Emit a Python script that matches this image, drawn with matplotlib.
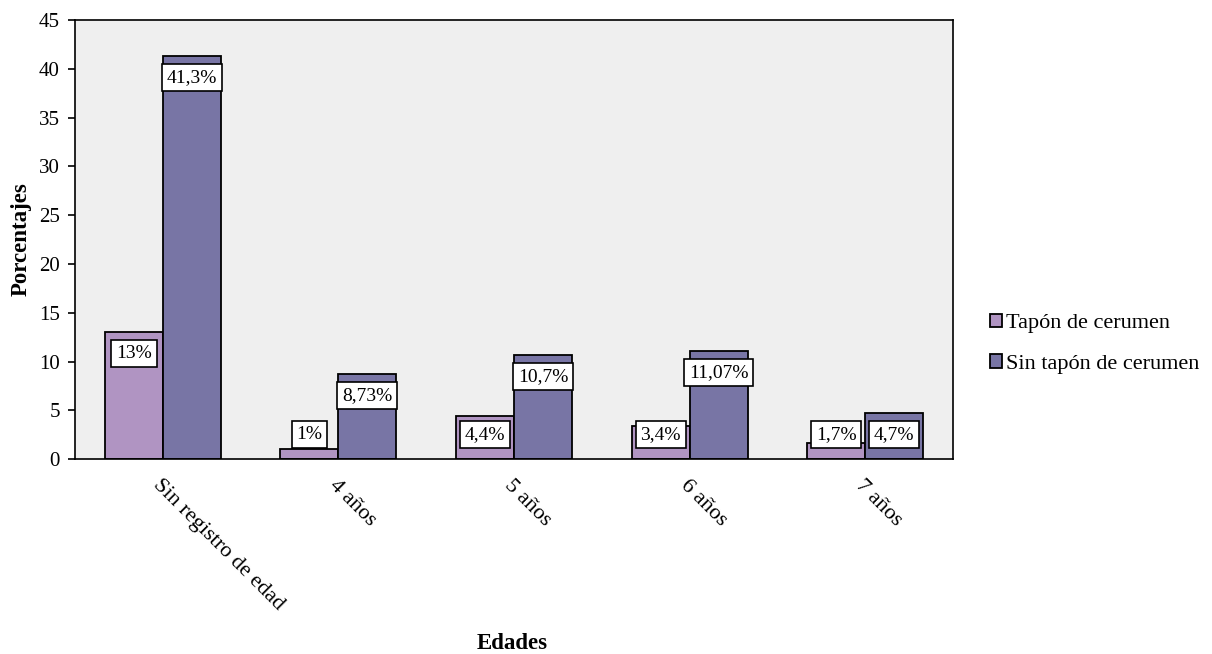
import matplotlib
matplotlib.use("Agg")
import matplotlib.pyplot as plt
import numpy as np

categories = ["Sin registro de edad", "4 años", "5 años", "6 años", "7 años"]
tapon = [13, 1, 4.4, 3.4, 1.7]
sin_tapon = [41.3, 8.73, 10.7, 11.07, 4.7]
tapon_labels = ["13%", "1%", "4,4%", "3,4%", "1,7%"]
sin_tapon_labels = ["41,3%", "8,73%", "10,7%", "11,07%", "4,7%"]
series_names = ["Tapón de cerumen", "Sin tapón de cerumen"]

plt.rcParams["font.family"] = ["Liberation Serif", "DejaVu Serif"]

fig = plt.figure(figsize=(12.12, 6.54), dpi=100)
ax = fig.add_axes([0.0619, 0.298, 0.7244, 0.6714])
ax.set_facecolor("#EFEFEF")

x = np.arange(len(categories))
w = 0.33
c_light = "#B094C2"
c_dark = "#7875A5"
ax.bar(x - w / 2, tapon, w, color=c_light, edgecolor="black", linewidth=1.3,
       label=series_names[0], zorder=2)
ax.bar(x + w / 2, sin_tapon, w, color=c_dark, edgecolor="black", linewidth=1.3,
       label=series_names[1], zorder=2)

def put_labels(xs, vals, texts):
    for xi, v, t in zip(xs, vals, texts):
        yc = max(v - 2.2, 2.5)
        ax.text(xi, yc, t, ha="center", va="center", fontsize=14, zorder=3,
                bbox=dict(boxstyle="square,pad=0.25", facecolor="white",
                          edgecolor="black", linewidth=1.2))

put_labels(x - w / 2, tapon, tapon_labels)
put_labels(x + w / 2, sin_tapon, sin_tapon_labels)

ax.set_xlim(-0.5, len(categories) - 0.5)
ax.set_ylim(0, 45)
ax.set_yticks(np.arange(0, 46, 5))
ax.tick_params(axis="y", direction="out", length=5, width=1.2, labelsize=15, pad=6)
ax.set_xticks(x)
ax.set_xticklabels(categories, rotation=-45, ha="left", va="top",
                   rotation_mode="anchor", fontsize=16)
ax.tick_params(axis="x", length=0, pad=12)
for s in ax.spines.values():
    s.set_linewidth(1.2)

ax.set_ylabel("Porcentajes", fontsize=16.5, fontweight="bold", labelpad=5)
fig.text(0.4225, 0.0, "Edades", ha="center", va="bottom", fontsize=16.5, fontweight="bold")

ax.legend(loc="center left", bbox_to_anchor=(1.019, 0.263), frameon=False,
          fontsize=16, handlelength=0.55, handleheight=0.55, handletextpad=0.2,
          labelspacing=0.95)

fig.savefig("out.png", dpi=100)
